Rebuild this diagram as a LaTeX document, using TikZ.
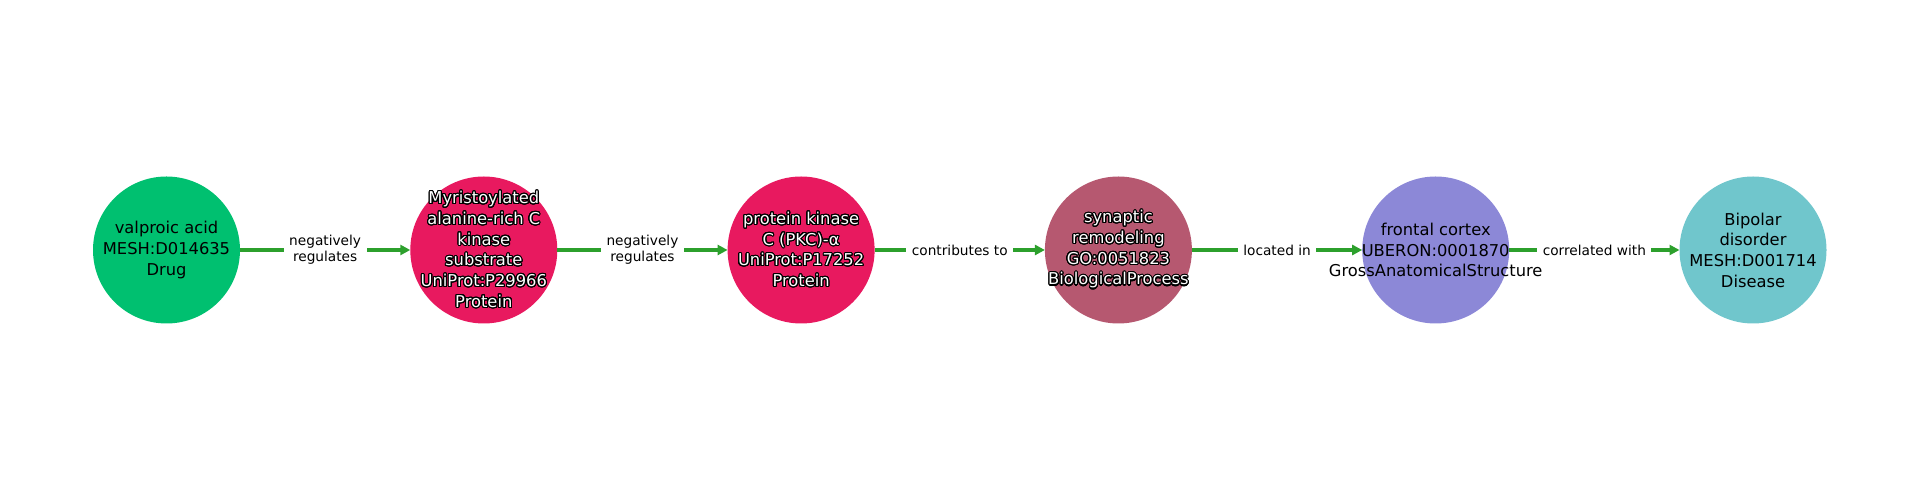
\documentclass[tikz,border=0pt]{standalone}
\usepackage{fontspec}
\setmainfont{DejaVu Sans}
\usepackage{contour}
\contourlength{1.1pt}
\contournumber{24}
\usetikzlibrary{arrows.meta}
\definecolor{cdrug}{RGB}{0,192,112}
\definecolor{cprot}{RGB}{232,25,95}
\definecolor{cproc}{RGB}{182,88,112}
\definecolor{canat}{RGB}{140,136,215}
\definecolor{cdis}{RGB}{112,198,204}
\definecolor{cedge}{RGB}{44,160,44}
\newcommand{\wl}[1]{\contour{black}{#1}}
\tikzset{
  circ/.style={circle, minimum size=147pt, inner sep=0pt, outer sep=0pt, draw=none},
  ntext/.style={align=center, inner sep=0pt, font=\fontsize{16.3}{20.7}\selectfont},
  wtext/.style={ntext, text=white},
  edge/.style={draw=cedge, line width=3.6pt, -{Triangle[length=10pt,width=10pt]}},
  elabel/.style={fill=white, inner sep=5.5pt, align=center, text=black, font=\fontsize{13.7}{16.3}\selectfont}
}
\begin{document}
\begin{tikzpicture}[x=1pt,y=1pt]
\useasboundingbox (0,0) rectangle (1920,500);
\node[circ, fill=cdrug] (n1) at (166.5,250) {};
\node[circ, fill=cprot] (n2) at (483.8,250) {};
\node[circ, fill=cprot] (n3) at (801.1,250) {};
\node[circ, fill=cproc] (n4) at (1118.4,250) {};
\node[circ, fill=canat] (n5) at (1435.7,250) {};
\node[circ, fill=cdis] (n6) at (1753,250) {};
\draw[edge] (n1) -- node[elabel] (l1) {negatively\\regulates} (n2);
\draw[edge] (n2) -- node[elabel] (l2) {negatively\\regulates} (n3);
\draw[edge] (n3) -- node[elabel] (l3) {contributes to} (n4);
\draw[edge] (n4) -- node[elabel] (l4) {located in} (n5);
\draw[edge] (n5) -- node[elabel] (l5) {correlated with} (n6);
\node[ntext] (t1) at (n1) {valproic acid\\MESH:D014635\\Drug};
\node[wtext] (t2) at (n2) {\wl{Myristoylated}\\\wl{alanine-rich C}\\\wl{kinase}\\\wl{substrate}\\\wl{UniProt:P29966}\\\wl{Protein}};
\node[wtext] (t3) at (n3) {\wl{protein kinase}\\\wl{C (PKC)-α}\\\wl{UniProt:P17252}\\\wl{Protein}};
\node[wtext] (t4) at (n4) {\wl{synaptic}\\\wl{remodeling}\\\wl{GO:0051823}\\\wl{BiologicalProcess}};
\node[ntext] (t5) at (n5) {frontal cortex\\UBERON:0001870\\GrossAnatomicalStructure};
\node[ntext] (t6) at (n6) {Bipolar\\disorder\\MESH:D001714\\Disease};
\end{tikzpicture}
\end{document}
